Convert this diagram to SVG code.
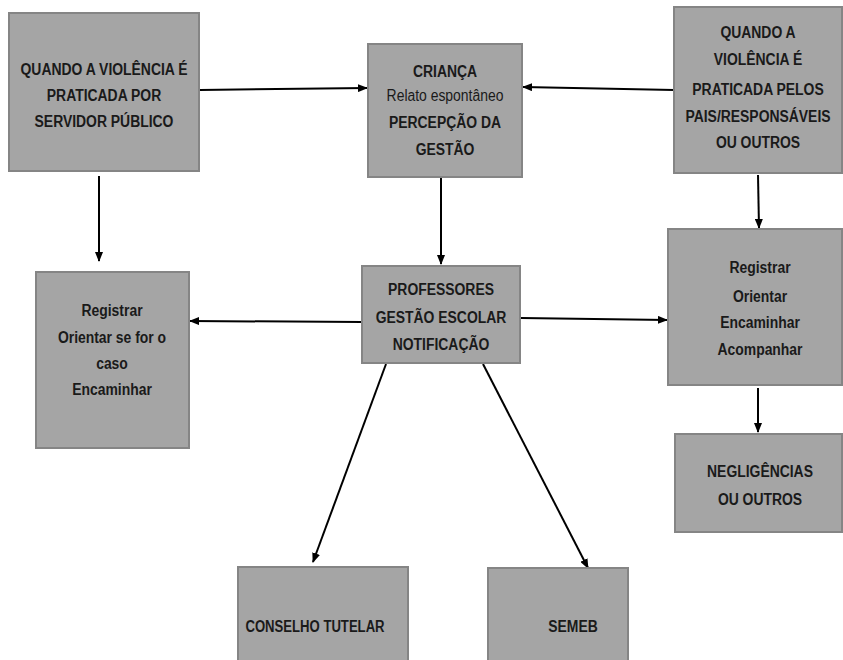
<svg xmlns="http://www.w3.org/2000/svg" width="843" height="660" viewBox="0 0 843 660">
<style>
.box{fill:#a5a5a5;stroke:#858585;stroke-width:2}
text{font-family:"Liberation Sans",Arial,sans-serif;font-size:16px;font-weight:bold;fill:#1a1a1a;text-anchor:middle}
.n{font-weight:normal}
.c line{stroke:#000;stroke-width:2;marker-end:url(#ah)}
</style>
<defs>
<marker id="ah" markerWidth="10" markerHeight="8" refX="9" refY="4" orient="auto" markerUnits="userSpaceOnUse">
<path d="M0,0 L10,4 L0,8 Z" fill="#000"/>
</marker>
</defs>
<rect width="843" height="660" fill="#fff"/>
<g class="c">
<line x1="200" y1="90" x2="367" y2="88"/>
<line x1="674" y1="90" x2="523" y2="87"/>
<line x1="99" y1="176" x2="99" y2="261"/>
<line x1="441" y1="178" x2="441" y2="264"/>
<line x1="758" y1="175" x2="759" y2="228"/>
<line x1="362" y1="322" x2="190" y2="321"/>
<line x1="521" y1="318" x2="667" y2="320"/>
<line x1="758" y1="388" x2="758" y2="432"/>
<line x1="386" y1="364" x2="313" y2="562"/>
<line x1="483" y1="364" x2="588" y2="568"/>
</g>
<g id="n1"><rect class="box" x="9" y="13" width="190" height="158"/>
<g transform="translate(104 0) scale(0.87 1)"><text x="0" y="75">QUANDO A VIOLÊNCIA É</text><text x="0" y="101">PRATICADA POR</text><text x="0" y="127">SERVIDOR PÚBLICO</text></g></g>
<g id="n2"><rect class="box" x="368" y="44" width="154" height="133"/>
<g transform="translate(445 0) scale(0.87 1)"><text x="0" y="77">CRIANÇA</text><text class="n" x="0" y="101">Relato espontâneo</text><text x="0" y="128">PERCEPÇÃO DA</text><text x="0" y="155">GESTÃO</text></g></g>
<g id="n3"><rect class="box" x="674" y="7" width="168" height="166"/>
<g transform="translate(758 0) scale(0.87 1)"><text x="0" y="38">QUANDO A</text><text x="0" y="65">VIOLÊNCIA É</text><text x="0" y="95">PRATICADA PELOS</text><text x="0" y="122">PAIS/RESPONSÁVEIS</text><text x="0" y="148">OU OUTROS</text></g></g>
<g id="n4"><rect class="box" x="36" y="272" width="153" height="176"/>
<g transform="translate(112 0) scale(0.87 1)"><text x="0" y="316">Registrar</text><text x="0" y="343">Orientar se for o</text><text x="0" y="369">caso</text><text x="0" y="395">Encaminhar</text></g></g>
<g id="n5"><rect class="box" x="362" y="266" width="158" height="97"/>
<g transform="translate(441 0) scale(0.87 1)"><text x="0" y="295">PROFESSORES</text><text x="0" y="323">GESTÃO ESCOLAR</text><text x="0" y="350">NOTIFICAÇÃO</text></g></g>
<g id="n6"><rect class="box" x="668" y="229" width="174" height="156"/>
<g transform="translate(760 0) scale(0.87 1)"><text x="0" y="273">Registrar</text><text x="0" y="302">Orientar</text><text x="0" y="328">Encaminhar</text><text x="0" y="355">Acompanhar</text></g></g>
<g id="n7"><rect class="box" x="675" y="434" width="167" height="98"/>
<g transform="translate(760 0) scale(0.87 1)"><text x="0" y="477">NEGLIGÊNCIAS</text><text x="0" y="505">OU OUTROS</text></g></g>
<g id="n8"><rect class="box" x="238" y="567" width="170" height="100"/>
<g transform="translate(315 0) scale(0.82 1)"><text x="0" y="632">CONSELHO TUTELAR</text></g></g>
<g id="n9"><rect class="box" x="488" y="568" width="140" height="100"/>
<g transform="translate(573 0) scale(0.87 1)"><text x="0" y="632">SEMEB</text></g></g>
</svg>
